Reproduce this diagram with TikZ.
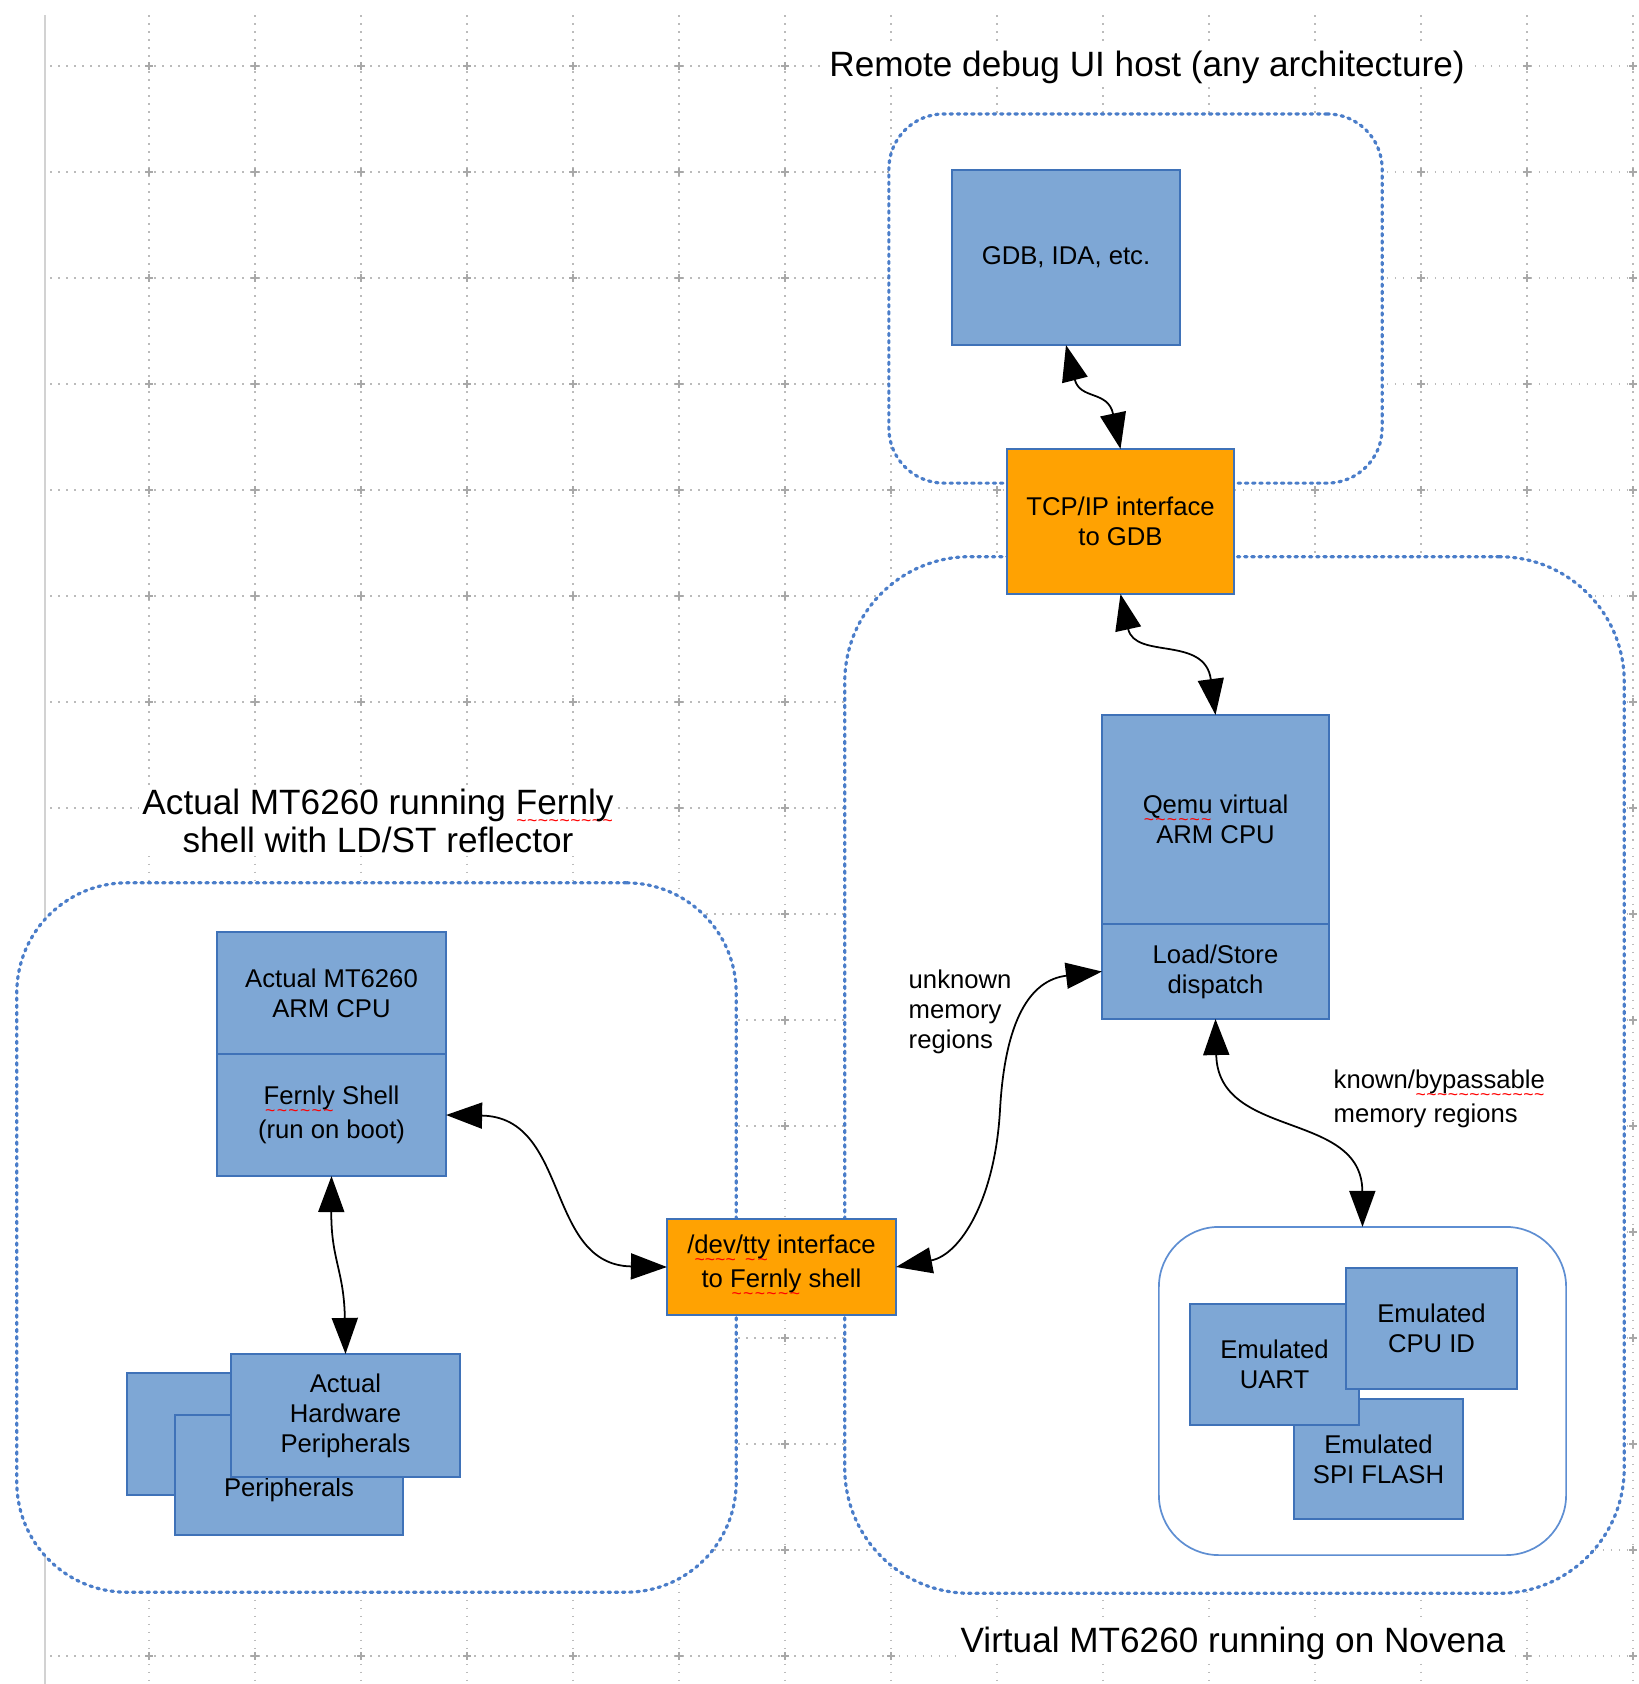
\documentclass[tikz,border=0pt]{standalone}
\usepackage{fontspec}
\setmainfont{Liberation Sans}
\usetikzlibrary{arrows.meta}
\definecolor{boxfill}{HTML}{7EA7D5}
\definecolor{boxline}{HTML}{3F72B8}
\definecolor{orng}{HTML}{FFA202}
\definecolor{dotblue}{HTML}{4A7DC9}
\definecolor{thinblue}{HTML}{5E8ED2}
\definecolor{gridgray}{HTML}{BBBBBB}
\newcommand\spellwave[1]{\setbox0=\hbox{#1}\rlap{\lower3.4pt\hbox to\wd0{\color{red}\xleaders\hbox{\fontsize{5}{5}\selectfont\char"007E}\hfil}}#1}
\tikzset{
 bodytext/.style={font=\fontsize{7.3}{8.5}\selectfont, align=center},
 bluebox/.style={bodytext, draw=boxline, fill=boxfill, line width=0.02cm, inner sep=0pt, outer sep=0pt},
 orangebox/.style={bluebox, fill=orng},
 container/.style={draw=dotblue, fill=white, line width=0.032cm, dash pattern=on 0.024cm off 0.048cm, line cap=round, rounded corners=#1, inner sep=0pt, outer sep=0pt},
 thincontainer/.style={draw=thinblue, fill=white, line width=0.017cm, rounded corners=0.6cm, inner sep=0pt, outer sep=0pt},
 titletext/.style={font=\fontsize{10}{10.8}\selectfont, align=center, fill=white, inner sep=1pt},
 sidenote/.style={bodytext, align=left, anchor=west, inner sep=0pt},
 conn/.style={draw, line width=0.5pt, {Triangle[length=0.36cm,width=0.26cm]}-{Triangle[length=0.36cm,width=0.26cm]}},
 gridline/.style={draw=gridgray, line width=0.015cm, dash pattern=on 0.015cm off 0.065cm},
}
\begin{document}
\begin{tikzpicture}[x=0.01cm,y=-0.01cm]
\useasboundingbox (0,0) rectangle (1638,1684);
\fill[white] (0,0) rectangle (1638,1684);
% grid
\foreach \x in {149,255,...,1633} \draw[gridline] (\x,15) -- (\x,1684);
\foreach \y in {66,172,...,1656} \draw[gridline] (50,\y) -- (1638,\y);
\foreach \x in {149,255,...,1633} \foreach \y in {66,172,...,1656}
  \draw[gridgray!90!black, line width=0.012cm] (\x-4,\y) -- (\x+4,\y) (\x,\y-4) -- (\x,\y+4);
\draw[gray!35, line width=0.025cm] (45,15) -- (45,1684);

% containers
\node[container=0.55cm, minimum width=4.93cm, minimum height=3.69cm] (hostbox) at (1135.5,298.5) {};
\node[container=1.25cm, minimum width=7.79cm, minimum height=10.36cm] (novbox) at (1234.5,1075) {};
\node[container=1.1cm, minimum width=7.19cm, minimum height=7.09cm] (realbox) at (376.5,1237.5) {};
\node[thincontainer, minimum width=4.07cm, minimum height=3.28cm] (small) at (1362.5,1391) {};

% titles
\node[titletext] (hosttitle) at (1147,67) {Remote debug UI host (any architecture)};
\node[titletext] (novtitle) at (1233,1643) {Virtual MT6260 running on Novena};
\node[titletext] (realtitle) at (378,821) {Actual MT6260 running \spellwave{Fernly}\\shell with LD/ST reflector};

% boxes
\node[bluebox, minimum width=2.28cm, minimum height=1.75cm] (gdb) at (1066,257.5) {GDB, IDA, etc.};
\node[orangebox, minimum width=2.27cm, minimum height=1.45cm] (tcp) at (1120.5,521.5) {TCP/IP interface\\to GDB};
\node[bluebox, minimum width=2.27cm, minimum height=2.09cm] (qemu) at (1215.5,819.5) {\spellwave{Qemu} virtual\\ARM CPU};
\node[bluebox, minimum width=2.27cm, minimum height=0.95cm] (ls) at (1215.5,971.5) {Load/Store\\dispatch};
\node[bluebox, minimum width=1.69cm, minimum height=1.20cm] (spi) at (1378.5,1459) {Emulated\\SPI FLASH};
\node[bluebox, minimum width=1.69cm, minimum height=1.21cm] (uart) at (1274.5,1364.5) {Emulated\\UART};
\node[bluebox, minimum width=1.71cm, minimum height=1.21cm] (cpuid) at (1431.5,1328.5) {Emulated\\CPU ID};
\node[orangebox, minimum width=2.29cm, minimum height=0.96cm] (tty) at (781.5,1267) {/\spellwave{dev}/\spellwave{tty} interface\\to \spellwave{Fernly} shell};
\node[bluebox, minimum width=2.29cm, minimum height=1.22cm] (cpu) at (331.5,993) {Actual MT6260\\ARM CPU};
\node[bluebox, minimum width=2.29cm, minimum height=1.22cm] (fernly) at (331.5,1115) {\spellwave{Fernly} Shell\\(run on boot)};
\node[bluebox, minimum width=2.28cm, minimum height=1.22cm] (perA) at (241,1434) {\rule{0pt}{10pt}Hardware\\Peripherals};
\node[bluebox, minimum width=2.28cm, minimum height=1.20cm] (perB) at (289,1475) {Hardware\\Peripherals};
\node[bluebox, minimum width=2.29cm, minimum height=1.23cm] (perC) at (345.5,1415.5) {Actual\\Hardware\\Peripherals};

% labels
\node[sidenote] (unk) at (908,1012) {unknown\\memory\\regions};
\node[sidenote] (known) at (1333,1099) {known/\spellwave{bypassable}\\memory regions};

% connectors
\draw[conn] (gdb.south) .. controls (1080,400) and (1108,390) .. (tcp.north);
\draw[conn] (tcp.south) .. controls (1135,660) and (1205,635) .. (qemu.north);
\draw[conn] (ls.west) .. controls (1030,980) and (1005,1020) .. (1000,1110) .. controls (995,1200) and (960,1255) .. (tty.east);
\draw[conn] (ls.south) .. controls (1218,1140) and (1362,1110) .. (small.north);
\draw[conn] (fernly.east) .. controls (570,1117) and (545,1265) .. (tty.west);
\draw[conn] (fernly.south) .. controls (331,1260) and (344,1270) .. (perC.north);
\end{tikzpicture}
\end{document}
